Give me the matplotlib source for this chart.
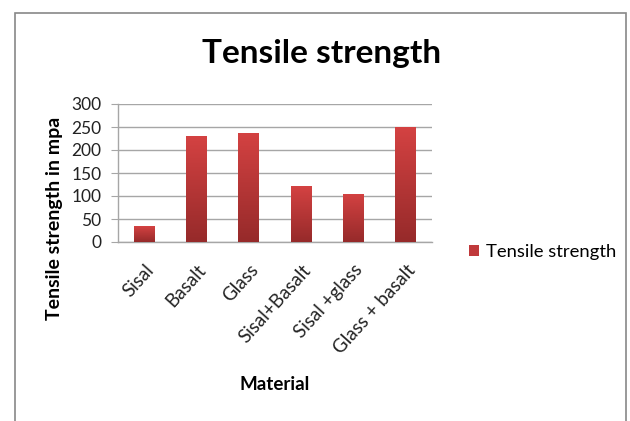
"""
tensile strength bar chart - excel style look
"""

import matplotlib
matplotlib.use("Agg")
import matplotlib.pyplot as plt
import numpy as np
from matplotlib.colors import LinearSegmentedColormap
from matplotlib.patches import Rectangle

plt.rcParams["font.family"] = ["Lato", "DejaVu Sans"]

materials = ["Sisal", "Basalt", "Glass", "Sisal+Basalt", "Sisal +glass", "Glass + basalt"]
tensile_strength = [34, 230, 237, 121, 105, 250]
y_ticks = [0, 50, 100, 150, 200, 250, 300]

fig = plt.figure(figsize=(6.3, 4.21), dpi=100)
fig.patch.set_facecolor("white")

# chart border like the excel frame
fig.patches.append(Rectangle((15 / 630, -0.1), (626 - 15) / 630, 1.1 - 13 / 421,
                             transform=fig.transFigure, fill=False,
                             edgecolor="#888888", linewidth=1.2))

ax = fig.add_axes([118 / 630, 1 - 242 / 421, (432 - 118) / 630, (242 - 104) / 421])

x = np.arange(len(materials))
bars = ax.bar(x, tensile_strength, width=0.4, color="#c0393b", zorder=2,
              label="Tensile strength")

# vertical gradient inside each bar
grad_cmap = LinearSegmentedColormap.from_list("redgrad", ["#962a2a", "#d44242"])
gradient = np.linspace(0, 1, 256).reshape(-1, 1)
for bar in bars:
    bx, by = bar.get_x(), bar.get_y()
    bw, bh = bar.get_width(), bar.get_height()
    im = ax.imshow(gradient, cmap=grad_cmap, origin="lower", aspect="auto",
                   extent=[bx, bx + bw, by, by + bh], zorder=3)
    im.set_clip_path(bar)

ax.set_xlim(-0.5, len(materials) - 0.5)
ax.set_ylim(0, 300)
ax.set_yticks(y_ticks)
ax.set_yticklabels([str(v) for v in y_ticks], fontsize=12.5, color="#222222")
ax.yaxis.grid(True, color="#a6a6a6", linewidth=1.0, zorder=0)
ax.tick_params(axis="y", length=5, color="#a6a6a6", pad=7)

ax.set_xticks(x)
ax.set_xticklabels(materials, rotation=48, ha="right", rotation_mode="anchor",
                   fontsize=13.5, color="#222222")
ax.tick_params(axis="x", length=0, pad=14)

for side in ["top", "right"]:
    ax.spines[side].set_visible(False)
for side in ["left", "bottom"]:
    ax.spines[side].set_color("#a6a6a6")
    ax.spines[side].set_linewidth(1.0)

fig.text(322 / 630, 1 - 54 / 421, "Tensile strength", ha="center", va="center",
         fontsize=24, fontweight="bold", color="black")
fig.text(55 / 630, 1 - 218 / 421, "Tensile strength in mpa", rotation=90,
         ha="center", va="center", fontsize=14, fontweight="bold", color="black")
fig.text(275 / 630, 1 - 385 / 421, "Material", ha="center", va="center",
         fontsize=13.5, fontweight="bold", color="black")

fig.legend(handles=[bars], labels=["Tensile strength"], loc="center left",
           bbox_to_anchor=(452 / 630, 1 - 252 / 421), frameon=False,
           fontsize=13.3, handlelength=0.55, handleheight=0.6, handletextpad=0.4)

fig.savefig("out.png", dpi=100)
